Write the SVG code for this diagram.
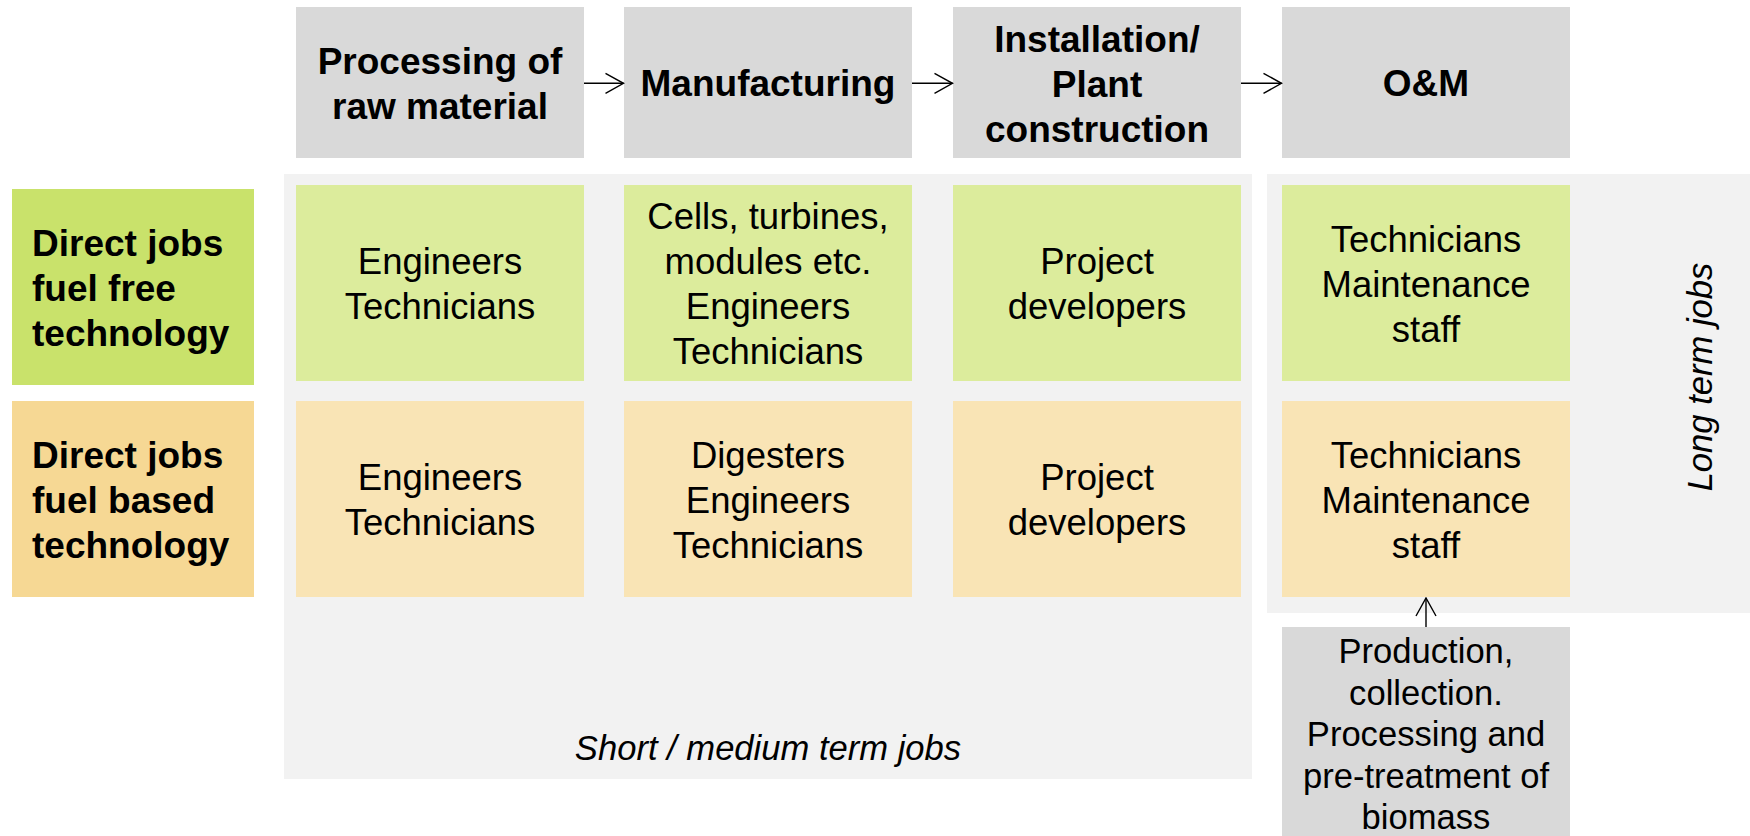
<svg xmlns="http://www.w3.org/2000/svg" width="1750" height="836" viewBox="0 0 1750 836">
<defs>
<style>
text{font-family:"Liberation Sans",Arial,sans-serif;fill:#000;text-anchor:middle}
.b{font-weight:bold;font-size:37px}
.r{font-size:36.5px}
.s{font-size:34.6px}
.i{font-style:italic;font-size:34.6px}
.l{text-anchor:start}
.hdr{fill:#d9d9d9}
.bg{fill:#f2f2f2}
.gl{fill:#c9e26b}
.gr{fill:#dcec9c}
.ol{fill:#f6d894}
.or{fill:#f9e4b5}
.c{stroke:#000;stroke-width:1.4;fill:none}
</style>
<marker id="ah" viewBox="0 0 20 22" refX="19" refY="11" markerWidth="20" markerHeight="22" markerUnits="userSpaceOnUse" orient="auto">
<path d="M1,1 L19,11 L1,21" fill="none" stroke="#000" stroke-width="1.4"/>
</marker>
</defs>
<rect width="1750" height="836" fill="#fff"/>
<g id="backgrounds">
<rect class="bg" x="284" y="174" width="968" height="605"/>
<rect class="bg" x="1267" y="174" width="483" height="439"/>
<text class="i" x="768" y="760">Short / medium term jobs</text>
<text class="i" transform="translate(1712,377) rotate(-90)">Long term jobs</text>
</g>
<g id="hdr-raw">
<rect class="hdr" x="296" y="7" width="288" height="151"/>
<text class="b" x="440" y="74">Processing of</text>
<text class="b" x="440" y="119">raw material</text>
</g>
<g id="hdr-manufacturing">
<rect class="hdr" x="624" y="7" width="288" height="151"/>
<text class="b" x="768" y="96">Manufacturing</text>
</g>
<g id="hdr-installation">
<rect class="hdr" x="953" y="7" width="288" height="151"/>
<text class="b" x="1097" y="51.5">Installation/</text>
<text class="b" x="1097" y="96.5">Plant</text>
<text class="b" x="1097" y="141.5">construction</text>
</g>
<g id="hdr-om">
<rect class="hdr" x="1282" y="7" width="288" height="151"/>
<text class="b" x="1426" y="96">O&amp;M</text>
</g>
<g id="lbl-fuel-free">
<rect class="gl" x="12" y="189" width="242" height="196"/>
<text class="b l" x="32" y="256">Direct jobs</text>
<text class="b l" x="32" y="301">fuel free</text>
<text class="b l" x="32" y="346">technology</text>
</g>
<g id="lbl-fuel-based">
<rect class="ol" x="12" y="401" width="242" height="196"/>
<text class="b l" x="32" y="468">Direct jobs</text>
<text class="b l" x="32" y="513">fuel based</text>
<text class="b l" x="32" y="558">technology</text>
</g>
<g id="g-raw">
<rect class="gr" x="296" y="185" width="288" height="196"/>
<text class="r" x="440" y="274">Engineers</text>
<text class="r" x="440" y="319">Technicians</text>
</g>
<g id="g-manufacturing">
<rect class="gr" x="624" y="185" width="288" height="196"/>
<text class="r" x="768" y="229">Cells, turbines,</text>
<text class="r" x="768" y="274">modules etc.</text>
<text class="r" x="768" y="319">Engineers</text>
<text class="r" x="768" y="364">Technicians</text>
</g>
<g id="g-installation">
<rect class="gr" x="953" y="185" width="288" height="196"/>
<text class="r" x="1097" y="274">Project</text>
<text class="r" x="1097" y="319">developers</text>
</g>
<g id="g-om">
<rect class="gr" x="1282" y="185" width="288" height="196"/>
<text class="r" x="1426" y="251.5">Technicians</text>
<text class="r" x="1426" y="296.5">Maintenance</text>
<text class="r" x="1426" y="341.5">staff</text>
</g>
<g id="o-raw">
<rect class="or" x="296" y="401" width="288" height="196"/>
<text class="r" x="440" y="490">Engineers</text>
<text class="r" x="440" y="535">Technicians</text>
</g>
<g id="o-manufacturing">
<rect class="or" x="624" y="401" width="288" height="196"/>
<text class="r" x="768" y="467.5">Digesters</text>
<text class="r" x="768" y="512.5">Engineers</text>
<text class="r" x="768" y="557.5">Technicians</text>
</g>
<g id="o-installation">
<rect class="or" x="953" y="401" width="288" height="196"/>
<text class="r" x="1097" y="490">Project</text>
<text class="r" x="1097" y="535">developers</text>
</g>
<g id="o-om">
<rect class="or" x="1282" y="401" width="288" height="196"/>
<text class="r" x="1426" y="467.5">Technicians</text>
<text class="r" x="1426" y="512.5">Maintenance</text>
<text class="r" x="1426" y="557.5">staff</text>
</g>
<g id="biomass">
<rect class="hdr" x="1282" y="627" width="288" height="209"/>
<text class="s" x="1426" y="663">Production,</text>
<text class="s" x="1426" y="704.5">collection.</text>
<text class="s" x="1426" y="746">Processing and</text>
<text class="s" x="1426" y="787.5">pre-treatment of</text>
<text class="s" x="1426" y="829">biomass</text>
</g>
<g id="connectors">
<line class="c" x1="584" y1="83.3" x2="623.5" y2="83.3" marker-end="url(#ah)"/>
<line class="c" x1="912" y1="83.3" x2="952.5" y2="83.3" marker-end="url(#ah)"/>
<line class="c" x1="1241" y1="83.3" x2="1281.5" y2="83.3" marker-end="url(#ah)"/>
<line class="c" x1="1426" y1="627" x2="1426" y2="598" marker-end="url(#ah)"/>
</g>
</svg>
